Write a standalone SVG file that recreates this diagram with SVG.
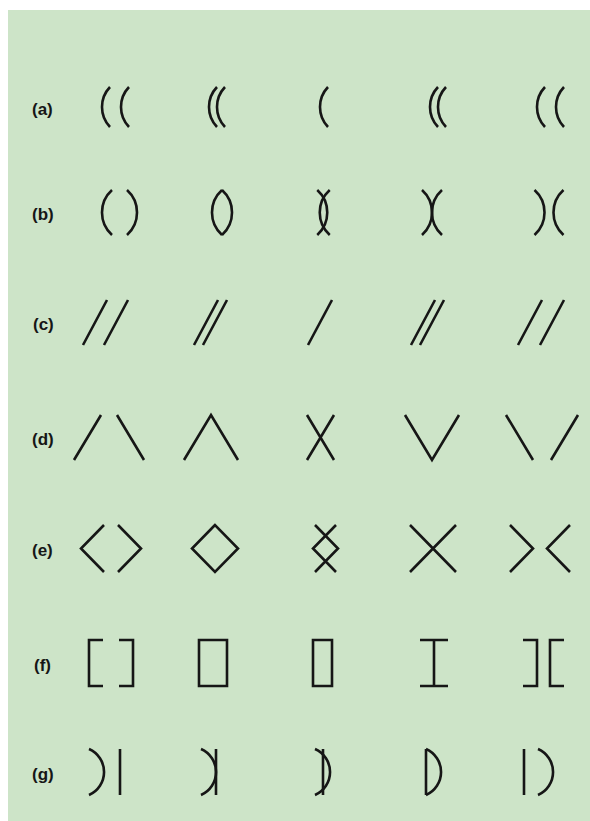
<svg xmlns="http://www.w3.org/2000/svg" width="590" height="821" viewBox="0 0 590 821">
<style>
.s{fill:none;stroke:#161616;stroke-width:2.6;stroke-linecap:butt;stroke-linejoin:miter}
.lbl{font-family:"Liberation Sans","DejaVu Sans",sans-serif;font-weight:bold;font-size:17px;fill:#161616}
</style>
<rect x="0" y="0" width="590" height="821" fill="#ffffff"/>
<rect x="8" y="10" width="582" height="811" fill="#cde4c8"/>
<g id="labels">
<text class="lbl" x="32" y="114.5">(a)</text>
<text class="lbl" x="32" y="220">(b)</text>
<text class="lbl" x="33" y="330">(c)</text>
<text class="lbl" x="32" y="445">(d)</text>
<text class="lbl" x="32" y="556">(e)</text>
<text class="lbl" x="34" y="670.5">(f)</text>
<text class="lbl" x="32" y="779.5">(g)</text>
</g>
<g id="row-a">
<g id="a1"><path class="s" d="M110,87 A29,29 0 0 0 110,127"/><path class="s" d="M129,87 A29,29 0 0 0 129,127"/></g>
<g id="a2"><path class="s" d="M217,87 A29,29 0 0 0 217,127"/><path class="s" d="M225,87 A29,29 0 0 0 225,127"/></g>
<g id="a3"><path class="s" d="M328,87 A29,29 0 0 0 328,127"/></g>
<g id="a4"><path class="s" d="M438,87 A29,29 0 0 0 438,127"/><path class="s" d="M446,87 A29,29 0 0 0 446,127"/></g>
<g id="a5"><path class="s" d="M545,87 A29,29 0 0 0 545,127"/><path class="s" d="M564,87 A29,29 0 0 0 564,127"/></g>
</g>
<g id="row-b">
<g id="b1"><path class="s" d="M112,190 A30.3,30.3 0 0 0 112,235"/><path class="s" d="M127,190 A30.3,30.3 0 0 1 127,235"/></g>
<g id="b2"><path class="s" d="M222,190 A30.3,30.3 0 0 0 222,235"/><path class="s" d="M222,190 A30.3,30.3 0 0 1 222,235"/></g>
<g id="b3"><path class="s" d="M329.75,190 A30.3,30.3 0 0 0 329.75,235"/><path class="s" d="M317.25,190 A30.3,30.3 0 0 1 317.25,235"/></g>
<g id="b4"><path class="s" d="M422,190 A30.3,30.3 0 0 1 422,235"/><path class="s" d="M442,190 A30.3,30.3 0 0 0 442,235"/></g>
<g id="b5"><path class="s" d="M534.5,190 A30.3,30.3 0 0 1 534.5,235"/><path class="s" d="M563.5,190 A30.3,30.3 0 0 0 563.5,235"/></g>
</g>
<g id="row-c">
<g id="c1"><path class="s" d="M83,345 L107,300 M104,345 L128,300"/></g>
<g id="c2"><path class="s" d="M194,345 L218,300 M203,345 L227,300"/></g>
<g id="c3"><path class="s" d="M308,345 L332,300"/></g>
<g id="c4"><path class="s" d="M411,345 L435,300 M420,345 L444,300"/></g>
<g id="c5"><path class="s" d="M518,345 L542,300 M540,345 L564,300"/></g>
</g>
<g id="row-d">
<g id="d1"><path class="s" d="M74,460 L101,415 M117,415 L144,460"/></g>
<g id="d2"><path class="s" d="M184,460 L211,415 L238,460"/></g>
<g id="d3"><path class="s" d="M307,460 L334,415 M307,415 L334,460"/></g>
<g id="d4"><path class="s" d="M405,415 L432,460 L459,415"/></g>
<g id="d5"><path class="s" d="M506,415 L533,460 M551,460 L578,415"/></g>
</g>
<g id="row-e">
<g id="e1"><path class="s" d="M104,525 L81,548.5 L104,572 M118,525 L141,548.5 L118,572"/></g>
<g id="e2"><path class="s" d="M215,525 L192,548.5 L215,572 L238,548.5 Z"/></g>
<g id="e3"><path class="s" d="M336,525 L313,548.5 L336,572 M315,525 L338,548.5 L315,572"/></g>
<g id="e4"><path class="s" d="M410,525 L456,572 M456,525 L410,572"/></g>
<g id="e5"><path class="s" d="M510,525 L533,548.5 L510,572 M570,525 L547,548.5 L570,572"/></g>
</g>
<g id="row-f">
<g id="f1"><path class="s" d="M103,640 H89 V686 H103 M119,640 H133 V686 H119"/></g>
<g id="f2"><path class="s" d="M213,640 H199 V686 H213 M213,640 H227 V686 H213"/></g>
<g id="f3"><path class="s" d="M327,640 H313 V686 H327 M318,640 H332 V686 H318"/></g>
<g id="f4"><path class="s" d="M448,640 H434 V686 H448 M420,640 H434 V686 H420"/></g>
<g id="f5"><path class="s" d="M523,640 H537 V686 H523 M564,640 H550 V686 H564"/></g>
</g>
<g id="row-g">
<g id="g1"><path class="s" d="M89,749 A25.1,25.1 0 0 1 89,795"/><path class="s" d="M120,749 V795"/></g>
<g id="g2"><path class="s" d="M201,749 A25.1,25.1 0 0 1 201,795"/><path class="s" d="M216,749 V795"/></g>
<g id="g3"><path class="s" d="M315,749 A25.1,25.1 0 0 1 315,795"/><path class="s" d="M323,749 V795"/></g>
<g id="g4"><path class="s" d="M426,749 A25.1,25.1 0 0 1 426,795"/><path class="s" d="M426,749 V795"/></g>
<g id="g5"><path class="s" d="M538,749 A25.1,25.1 0 0 1 538,795"/><path class="s" d="M524,749 V795"/></g>
</g>
</svg>
